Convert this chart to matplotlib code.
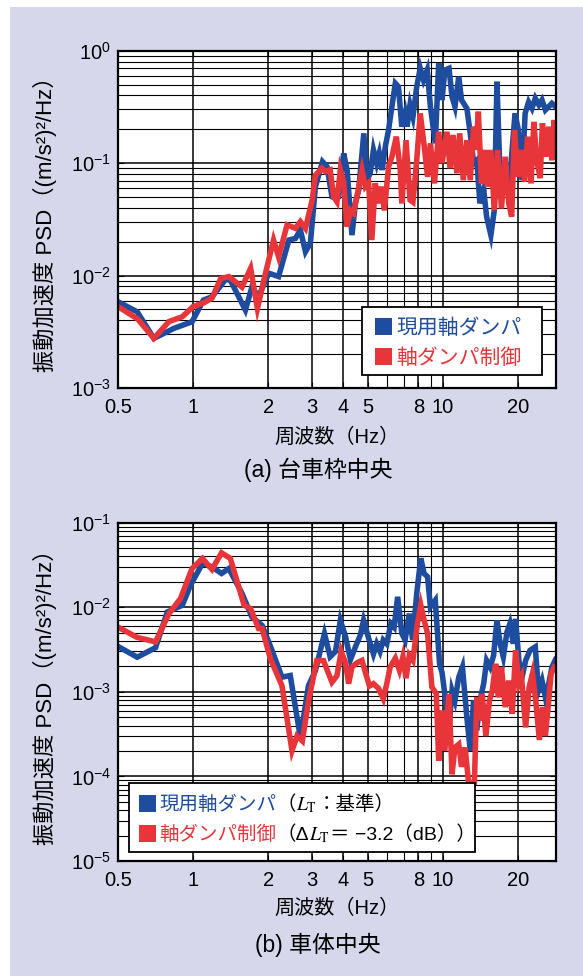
import numpy as np
import matplotlib
matplotlib.use('Agg')
import matplotlib.pyplot as plt
from matplotlib.patches import Rectangle
from matplotlib.ticker import FixedLocator, FixedFormatter, LogLocator, NullFormatter, FuncFormatter

plt.rcParams['font.family'] = ['Liberation Sans', 'Noto Sans CJK JP']
plt.rcParams['mathtext.fontset'] = 'custom'
plt.rcParams['mathtext.rm'] = 'Liberation Sans'
plt.rcParams['mathtext.it'] = 'Liberation Sans:italic'
plt.rcParams['mathtext.bf'] = 'Liberation Sans:bold'

BLUE = '#1e4c9f'
RED = '#e8353a'
BG = '#d6d7eb'

# (a) bogie frame centre -- current damper
f_a_cur = [0.50, 0.597, 0.696, 0.837, 0.99, 1.10, 1.19, 1.35, 1.41, 1.62, 1.72, 1.83, 2.01, 2.20,
           2.42, 2.57, 2.69, 2.82, 2.95, 3.09, 3.30, 3.44, 3.60, 3.72, 3.83, 4.01, 4.14, 4.33,
           4.47, 4.61, 4.83, 4.97, 5.12, 5.28, 5.44, 5.57, 5.72, 5.89, 6.07, 6.26, 6.46, 6.65,
           6.86, 7.07, 7.20, 7.40, 7.60, 7.87, 8.13, 8.38, 8.67, 8.93, 9.34, 9.64, 9.94, 10.2,
           10.6, 10.9, 11.2, 11.6, 11.9, 12.5, 12.9, 13.3, 13.7, 14.1, 14.6, 15.0, 15.6, 16.1,
           16.5, 17.0, 17.8, 18.6, 19.5, 20.1, 20.8, 21.4, 22.1, 22.8, 23.5, 24.3, 25.0, 25.8,
           26.6, 27.4, 28.3]
psd_a_cur = [0.00585, 0.00476, 0.00276, 0.00339, 0.00388, 0.00605, 0.00647, 0.00925, 0.0091,
             0.00493, 0.0079, 0.0065, 0.0105, 0.0098, 0.0207, 0.0214, 0.0254, 0.0163, 0.0194,
             0.0617, 0.103, 0.093, 0.0503, 0.0486, 0.050, 0.122, 0.087, 0.0229, 0.044, 0.058,
             0.184, 0.0706, 0.081, 0.131, 0.0995, 0.122, 0.087, 0.14, 0.197, 0.318, 0.513, 0.478,
             0.211, 0.277, 0.211, 0.329, 0.259, 0.478, 0.697, 0.549, 0.673, 0.318, 0.15, 0.773,
             0.364, 0.673, 0.697, 0.39, 0.318, 0.587, 0.364, 0.307, 0.184, 0.0995, 0.106, 0.0439,
             0.058, 0.0334, 0.0229, 0.038, 0.53, 0.0706, 0.093, 0.0756, 0.277, 0.197, 0.0706,
             0.277, 0.349, 0.307, 0.377, 0.329, 0.364, 0.297, 0.318, 0.34, 0.318]

# (a) bogie frame centre -- damper control
f_a_ctl = [0.50, 0.60, 0.696, 0.80, 0.905, 1.0, 1.10, 1.19, 1.29, 1.39, 1.57, 1.70, 1.81, 1.92,
           2.10, 2.20, 2.38, 2.57, 2.69, 2.82, 3.0, 3.09, 3.28, 3.39, 3.54, 3.66, 3.77, 3.89,
           4.01, 4.14, 4.27, 4.39, 4.53, 4.75, 4.90, 5.05, 5.20, 5.37, 5.48, 5.66, 5.84, 6.07,
           6.26, 6.52, 6.76, 6.86, 7.13, 7.40, 7.60, 7.87, 8.13, 8.44, 8.70, 8.93, 9.27, 9.64,
           9.94, 10.4, 10.7, 11.0, 11.4, 11.7, 12.1, 12.5, 12.9, 13.3, 13.6, 13.9, 14.3, 14.8,
           15.1, 15.6, 16.1, 16.6, 17.2, 17.8, 18.4, 18.9, 19.4, 20.0, 20.6, 21.3, 21.9, 22.6,
           23.2, 23.8, 24.6, 25.1, 25.9, 26.6, 27.4, 28.0, 28.4]
psd_a_ctl = [0.0053, 0.0041, 0.00276, 0.0039, 0.0043, 0.0053, 0.0057, 0.0063, 0.0094, 0.0098,
             0.0079, 0.0116, 0.0051, 0.0091, 0.0207, 0.0147, 0.0282, 0.0263, 0.0302, 0.0263,
             0.047, 0.078, 0.090, 0.084, 0.087, 0.050, 0.0453, 0.087, 0.0682, 0.0272, 0.038,
             0.0358, 0.050, 0.087, 0.0617, 0.0663, 0.0207, 0.0663, 0.0439, 0.0617, 0.038, 0.093,
             0.114, 0.172, 0.087, 0.0439, 0.16, 0.047, 0.045, 0.106, 0.277, 0.14, 0.0756, 0.15,
             0.066, 0.19, 0.10, 0.19, 0.09, 0.178, 0.0813, 0.184, 0.0706, 0.16, 0.0706, 0.211,
             0.131, 0.287, 0.066, 0.131, 0.0617, 0.131, 0.038, 0.131, 0.0395, 0.114, 0.0439,
             0.0334, 0.197, 0.0756, 0.131, 0.0682, 0.172, 0.066, 0.233, 0.106, 0.0735, 0.226,
             0.114, 0.211, 0.106, 0.242, 0.15]

# (b) car body centre -- current damper
f_b_cur = [0.50, 0.597, 0.707, 0.788, 0.905, 0.976, 1.09, 1.19, 1.30, 1.39, 1.57, 1.72, 1.89,
           2.07, 2.27, 2.45, 2.69, 2.90, 3.09, 3.36, 3.54, 3.72, 3.89, 4.08, 4.27, 4.47, 4.68,
           4.82, 5.05, 5.28, 5.44, 5.61, 5.78, 5.97, 6.20, 6.39, 6.60, 6.86, 7.07, 7.35, 7.58,
           7.87, 8.17, 8.43, 8.70, 8.93, 9.34, 9.72, 9.94, 10.2, 10.6, 10.9, 11.2, 11.6, 12.0,
           12.5, 12.9, 13.3, 13.7, 14.1, 14.6, 15.0, 15.5, 16.0, 16.5, 17.0, 17.5, 18.1, 18.6,
           19.2, 19.6, 20.2, 20.8, 21.5, 22.4, 23.5, 24.2, 25.0, 25.8, 26.6, 27.4, 28.3]
psd_b_cur = [0.00344, 0.00257, 0.00333, 0.0088, 0.01056, 0.0182, 0.033, 0.030, 0.0251, 0.0287,
             0.0146, 0.00767, 0.0061, 0.0031, 0.00149, 0.00156, 0.000289, 0.00119, 0.00178,
             0.00488, 0.0026, 0.0030, 0.0070, 0.0045, 0.0024, 0.0034, 0.0047, 0.007, 0.0043,
             0.0028, 0.0037, 0.0030, 0.0041, 0.0037, 0.0064, 0.0058, 0.0133, 0.0049, 0.0041,
             0.0084, 0.0041, 0.0145, 0.0379, 0.025, 0.0229, 0.0101, 0.0121, 0.0021, 0.0017,
             0.00094, 0.00038, 0.00103, 0.00079, 0.00149, 0.00196, 0.0005, 0.0002, 0.00079,
             0.00035, 0.00079, 0.00125, 0.00235, 0.00196, 0.0027, 0.007, 0.0037, 0.0026, 0.0051,
             0.0064, 0.0037, 0.0073, 0.00235, 0.00149, 0.00235, 0.0031, 0.0034, 0.00103,
             0.00136, 0.00086, 0.00125, 0.00196, 0.0024]

# (b) car body centre -- damper control
f_b_ctl = [0.50, 0.597, 0.707, 0.80, 0.89, 0.99, 1.09, 1.19, 1.30, 1.41, 1.60, 1.70, 1.83, 1.89,
           2.04, 2.27, 2.49, 2.61, 2.74, 2.90, 3.13, 3.33, 3.60, 3.77, 3.92, 4.08, 4.20, 4.33,
           4.53, 4.75, 4.90, 5.09, 5.28, 5.53, 5.78, 5.97, 6.16, 6.46, 6.71, 6.93, 7.13, 7.35,
           7.60, 7.92, 8.17, 8.43, 8.70, 9.05, 9.43, 9.64, 9.94, 10.2, 10.6, 10.9, 11.2, 11.6,
           11.9, 12.3, 12.7, 13.4, 13.7, 14.1, 14.4, 14.9, 15.4, 15.8, 16.3, 16.7, 17.2, 17.8,
           18.4, 19.0, 19.6, 20.2, 20.7, 21.5, 22.2, 22.9, 23.6, 24.4, 25.1, 25.8, 26.6, 27.2,
           28.0]
psd_b_ctl = [0.00583, 0.0044, 0.0039, 0.0084, 0.0127, 0.0287, 0.0378, 0.028, 0.044, 0.0378,
             0.0106, 0.0096, 0.0056, 0.0056, 0.00246, 0.00118, 0.000201, 0.000302, 0.000263,
             0.00078, 0.00234, 0.00234, 0.0013, 0.00155, 0.003, 0.0022, 0.00125, 0.00196, 0.0022,
             0.00235, 0.0017, 0.00117, 0.00125, 0.0011, 0.00083, 0.00125, 0.00196, 0.0025,
             0.0018, 0.0026, 0.00145, 0.0027, 0.00235, 0.0064, 0.0106, 0.007, 0.0049, 0.00114,
             0.00095, 0.000153, 0.0006, 0.0002, 0.00094, 0.000106, 0.00022, 0.00024, 0.00013,
             0.00022, 0.0000848, 0.0000848, 0.00086, 0.00046, 0.00094, 0.00030, 0.00079,
             0.00103, 0.00215, 0.00086, 0.00196, 0.00066, 0.00136, 0.00055, 0.0031, 0.00125,
             0.00149, 0.00038, 0.00113, 0.00164, 0.00079, 0.00027, 0.00066, 0.00030, 0.00079,
             0.00164, 0.00196]

xticks = [0.5, 1, 2, 3, 4, 5, 8, 10, 20]
xticklabels = ['0.5', '1', '2', '3', '4', '5', '8', '10', '20']
xminor = [6, 7, 9]
xlabel = '周波数（Hz）'
ylabel = '振動加速度 PSD（(m/s²)²/Hz）'
captions = ['(a) 台車枠中央', '(b) 車体中央']
name_cur = '現用軸ダンパ'
name_ctl = '軸ダンパ制御'

W, H = 583, 976
fig = plt.figure(figsize=(W / 100, H / 100), dpi=100)
fig.patches.append(Rectangle((10 / W, 0), 1, (H - 7) / H, transform=fig.transFigure,
                             facecolor=BG, edgecolor='none', zorder=-10))


def px(x, y):
    return x / W, 1 - y / H


def setup(ax, ylim):
    ax.set_xscale('log')
    ax.set_yscale('log')
    ax.set_xlim(0.5, 28.4)
    ax.set_ylim(*ylim)
    ax.set_facecolor('white')
    ax.xaxis.set_major_locator(FixedLocator(xticks))
    ax.xaxis.set_major_formatter(FixedFormatter(xticklabels))
    ax.xaxis.set_minor_locator(FixedLocator(xminor))
    ax.xaxis.set_minor_formatter(NullFormatter())
    ax.yaxis.set_major_locator(LogLocator(base=10, numticks=10))
    ax.yaxis.set_minor_locator(LogLocator(base=10, subs=range(2, 10), numticks=20))
    ax.yaxis.set_minor_formatter(NullFormatter())
    ax.yaxis.set_major_formatter(FuncFormatter(lambda v, p: r'$10^{%d}$' % round(np.log10(v))))
    ax.grid(True, which='major', color='black', lw=1.1)
    ax.grid(True, which='minor', color='black', lw=0.8)
    ax.set_axisbelow(True)
    ax.tick_params(which='both', direction='in', top=True, right=True, labelsize=14.5, length=4)
    ax.tick_params(axis='x', pad=7)
    ax.tick_params(axis='y', pad=5)
    for s in ax.spines.values():
        s.set_linewidth(1.6)


def draw_texts(x, y, parts, size):
    r = fig.canvas.get_renderer()
    for s, c, mf in parts:
        t = fig.text(x / W, 1 - y / H, s, color=c, fontsize=size, va='baseline', zorder=7)
        if mf:
            t.set_math_fontfamily(mf)
        x = t.get_window_extent(r).x1


def legend_box(x0, y0, x1, y1):
    fig.patches.append(Rectangle(px(x0, y1), (x1 - x0) / W, (y1 - y0) / H, transform=fig.transFigure,
                                 facecolor='white', edgecolor='black', lw=1.3, zorder=5))


def square(x, yc, color, s=17):
    fig.patches.append(Rectangle(px(x, yc + s / 2), s / W, s / H, transform=fig.transFigure,
                                 facecolor=color, edgecolor='none', zorder=6))


LW = 4.0

ax1 = fig.add_axes([118 / W, 1 - 388 / H, 437.8 / W, 337.3 / H])
setup(ax1, (1e-3, 1e0))
ax1.plot(f_a_cur, psd_a_cur, color=BLUE, lw=LW, solid_joinstyle='miter')
ax1.plot(f_a_ctl, psd_a_ctl, color=RED, lw=LW, solid_joinstyle='miter')

ax2 = fig.add_axes([118 / W, 1 - 861 / H, 437.8 / W, 338.3 / H])
setup(ax2, (1e-5, 1e-1))
ax2.plot(f_b_cur, psd_b_cur, color=BLUE, lw=LW, solid_joinstyle='miter')
ax2.plot(f_b_ctl, psd_b_ctl, color=RED, lw=LW, solid_joinstyle='miter')

for yc, yx in [(219, 437), (692, 908)]:
    fig.text(*px(45, yc), ylabel, rotation=90, ha='center', va='center', fontsize=16)
    fig.text(*px(337, yx), xlabel, ha='center', va='center', fontsize=14.5)
for cap, yy in zip(captions, [470, 945]):
    fig.text(*px(318, yy), cap, ha='center', va='center', fontsize=16.5)

fig.canvas.draw()

# legend (a)
legend_box(361.7, 306.7, 541.7, 375)
square(375, 326.7, BLUE)
square(375, 356.7, RED)
draw_texts(396, 333.5, [(name_cur, BLUE, None)], 15)
draw_texts(396, 363.5, [(name_ctl, RED, None)], 15)

# legend (b)
legend_box(129, 782.7, 475, 852)
square(138.5, 803.3, BLUE)
square(138.5, 833.3, RED)
draw_texts(159, 810, [(name_cur, BLUE, None), ('（', 'black', None),
                      (r'$L_{\mathrm{T}}$', 'black', 'stix'), ('：基準）', 'black', None)], 14)
draw_texts(159, 840, [(name_ctl, RED, None), ('（Δ', 'black', None),
                      (r'$L_{\mathrm{T}}$', 'black', 'stix'), ('＝ −3.2（dB））', 'black', None)], 14)

fig.savefig('out.png', dpi=100, facecolor='white')
